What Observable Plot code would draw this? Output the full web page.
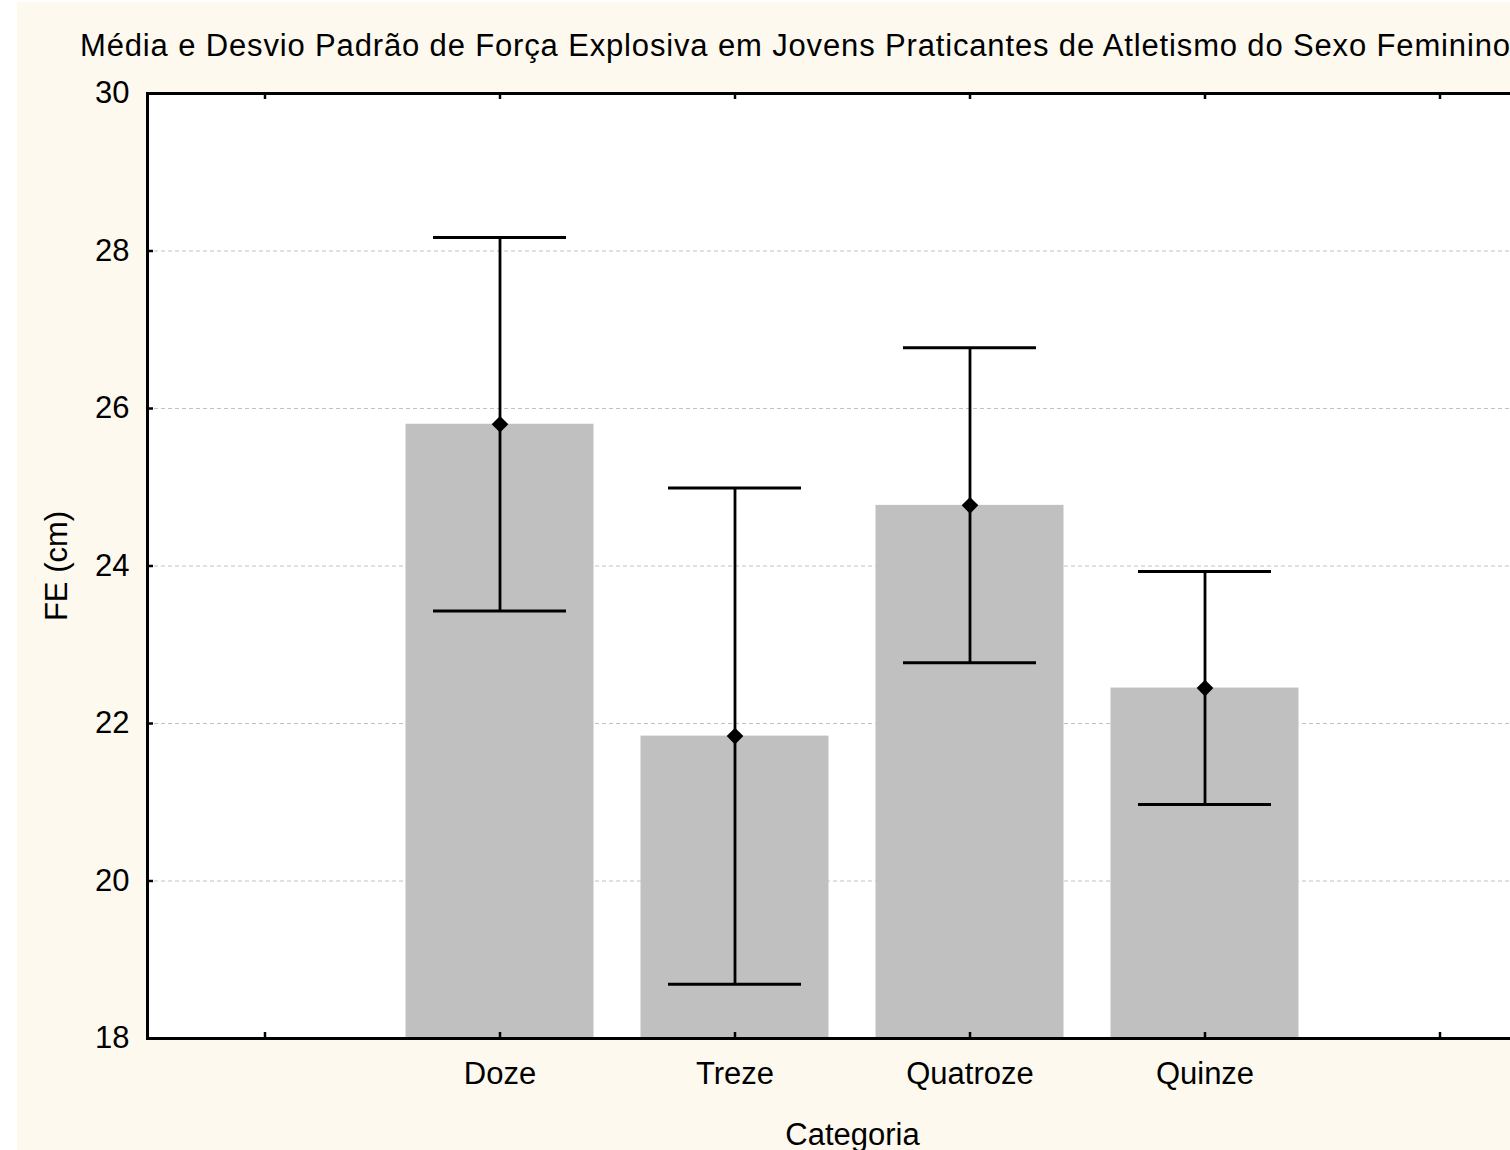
<!DOCTYPE html>
<html>
<head>
<meta charset="utf-8">
<script src="https://cdn.jsdelivr.net/npm/d3@7"></script>
<script src="https://cdn.jsdelivr.net/npm/@observablehq/plot@0.6"></script>
<style>
  html, body { margin: 0; padding: 0; background: #ffffff; overflow: hidden; width: 1510px; height: 1150px; }
  #bg { position: absolute; left: 17px; top: 2px; width: 1493px; height: 1148px; background: #fdf9ef; }
  #title { position: absolute; left: 80px; top: 30px; font-family: "Liberation Sans", Arial, sans-serif; font-size: 31px; line-height: 31px; letter-spacing: 0.85px; white-space: nowrap; color: #000; }
  #chart { position: absolute; left: 0; top: 0; }
</style>
</head>
<body>
<div id="bg"></div>
<div id="chart"></div>
<div id="title">Média e Desvio Padrão de Força Explosiva em Jovens Praticantes de Atletismo do Sexo Feminino</div>
<script>
// ---- data ----
const categories = ["Doze", "Treze", "Quatroze", "Quinze"];
const means = [25.80, 21.84, 24.77, 22.45];
const sds = [2.37, 3.15, 2.00, 1.48];
const yTicks = [18, 20, 22, 24, 26, 28, 30];
const yMin = 18, yMax = 30;
const xSlots = ["pad0", ...categories, "pad1"];
const yLabel = "FE (cm)";
const xLabel = "Categoria";

const data = categories.map((c, i) => ({cat: c, mean: means[i], lo: means[i] - sds[i], hi: means[i] + sds[i]}));

// ---- layout ----
const W = 1560, H = 1150;
const mL = 147, mT = 93, mB = 112, mR = 3;
const plotW = W - mL - mR, plotH = H - mT - mB;
const font = "'Liberation Sans', Arial, sans-serif";

const chart = Plot.plot({
  width: W,
  height: H,
  marginLeft: mL, marginTop: mT, marginBottom: mB, marginRight: mR,
  style: {background: "transparent", fontFamily: font, fontSize: "31px", maxWidth: "none", color: "#000"},
  x: {type: "band", domain: xSlots, paddingInner: 0.2, paddingOuter: 0.1, round: false, axis: null},
  y: {domain: [yMin, yMax], axis: null},
  marks: [
    Plot.frame({fill: "white", stroke: null}),
    Plot.gridY(yTicks.slice(1, -1), {stroke: "#c2c2c2", strokeOpacity: 1, strokeWidth: 1, strokeDasharray: "4,3"}),
    Plot.barY(data, {x: "cat", y1: () => yMin, y2: "mean", fill: "#c0c0c0"}),
    // inward ticks: bottom, top
    Plot.tickX(xSlots, {x: d => d, stroke: "black", strokeWidth: 2.5, insetTop: plotH - 6}),
    Plot.tickX(xSlots, {x: d => d, stroke: "black", strokeWidth: 2.5, insetBottom: plotH - 6}),
    // inward y ticks
    Plot.tickY(yTicks, {y: d => d, stroke: "black", strokeWidth: 2.5, insetRight: plotW - 6}),
    // error bars
    Plot.ruleX(data, {x: "cat", y1: "lo", y2: "hi", stroke: "black", strokeWidth: 2.8}),
    Plot.tickY(data, {x: "cat", y: "hi", stroke: "black", strokeWidth: 3, insetLeft: 27.5, insetRight: 27.5}),
    Plot.tickY(data, {x: "cat", y: "lo", stroke: "black", strokeWidth: 3, insetLeft: 27.5, insetRight: 27.5}),
    Plot.dot(data, {x: "cat", y: "mean", symbol: "diamond2", r: 7.5, fill: "black", stroke: null}),
    Plot.frame({stroke: "black", strokeWidth: 3}),
    // axes labels
    Plot.axisY(yTicks, {tickSize: 0, tickPadding: 18, fontSize: 31, label: null, tickFormat: d => String(d)}),
    Plot.axisX(xSlots, {tickSize: 0, tickPadding: 23, fontSize: 31, label: null,
      tickFormat: d => categories.includes(d) ? d : ""}),
    Plot.text([yLabel], {text: d => d, frameAnchor: "left", rotate: -90, dx: -90, textAnchor: "middle", lineAnchor: "middle", fontSize: 31}),
    Plot.text([xLabel], {text: d => d, frameAnchor: "bottom", dy: 106, textAnchor: "middle", lineAnchor: "bottom", fontSize: 31})
  ]
});
document.getElementById("chart").appendChild(chart);
</script>
</body>
</html>
